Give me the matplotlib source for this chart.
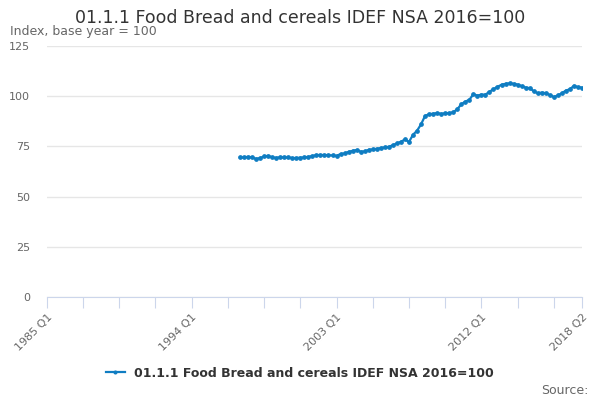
import numpy as np
import matplotlib.pyplot as plt

# quarterly series, 1997 Q1 .. 2018 Q2 (axis runs from 1985 Q1)
start_year = 1985
first_index = 48
values = [69.5, 69.5, 69.8, 69.5, 68.8, 69.2, 70.0, 70.3, 69.5, 69.3, 69.6, 69.5,
          69.5, 69.2, 69.2, 69.4, 69.5, 69.8, 70.2, 70.7, 70.7, 70.7, 70.6, 70.5,
          70.3, 71.2, 71.5, 72.3, 72.8, 73.2, 72.4, 72.5, 73.3, 73.5, 73.8, 74.2,
          74.5, 74.8, 75.6, 76.5, 77.3, 78.5, 77.2, 80.8, 82.8, 86.0, 90.2, 91.0,
          91.3, 91.6, 91.2, 91.5, 91.6, 92.0, 93.5, 96.0, 97.3, 98.2, 101.0, 100.3,
          100.8, 100.8, 102.2, 103.5, 104.7, 105.7, 106.2, 106.4, 106.2, 105.8, 105.0, 104.3,
          104.0, 102.5, 101.5, 101.8, 101.5, 100.6, 99.6, 100.4, 101.5, 102.8, 103.5, 105.2,
          104.5, 104.3]
n_quarters = 134
labels = ['%d Q%d' % (start_year + i // 4, i % 4 + 1) for i in range(n_quarters)]
series_name = '01.1.1 Food Bread and cereals IDEF NSA 2016=100'

x = np.arange(first_index, first_index + len(values))

fig = plt.figure(figsize=(6, 4), dpi=100)
ax = fig.add_axes([0.078, 0.2575, 0.892, 0.6275])

ax.plot(x, values, color='#0f7dc2', lw=1.6, marker='o', ms=2.4,
        label=series_name)

ax.set_xlim(0, n_quarters - 1)
ax.set_ylim(0, 125)
ax.set_yticks([0, 25, 50, 75, 100, 125])
ax.yaxis.grid(True, color='#e6e6e6', lw=1)
ax.set_axisbelow(True)
for s in ['top', 'right', 'left']:
    ax.spines[s].set_visible(False)
ax.spines['bottom'].set_color('#ccd6eb')
ax.tick_params(axis='y', length=0, pad=12, labelsize=8, labelcolor='#666666')

ticks = list(range(0, 127, 9)) + [n_quarters - 1]
ax.set_xticks(ticks)
ax.set_xticklabels([labels[t] if t % 36 == 0 or t == n_quarters - 1 else '' for t in ticks],
                   rotation=45, ha='right', rotation_mode='anchor')
ax.tick_params(axis='x', length=8, color='#ccd6eb', labelsize=8,
               labelcolor='#666666', pad=3)

fig.text(0.5, 0.955, series_name, ha='center', va='center', fontsize=12.5, color='#333333')
fig.text(0.017, 0.92, 'Index, base year = 100', ha='left', va='center', fontsize=9, color='#666666')
fig.text(0.98, 0.025, 'Source:', ha='right', va='center', fontsize=9, color='#666666')

leg = fig.legend(loc='center', bbox_to_anchor=(0.5, 0.067), frameon=False,
                 prop={'size': 9, 'weight': 'bold'}, handlelength=1.5, markerscale=0.8)
for t in leg.get_texts():
    t.set_color('#333333')

fig.savefig('out.png')
plt.close()
